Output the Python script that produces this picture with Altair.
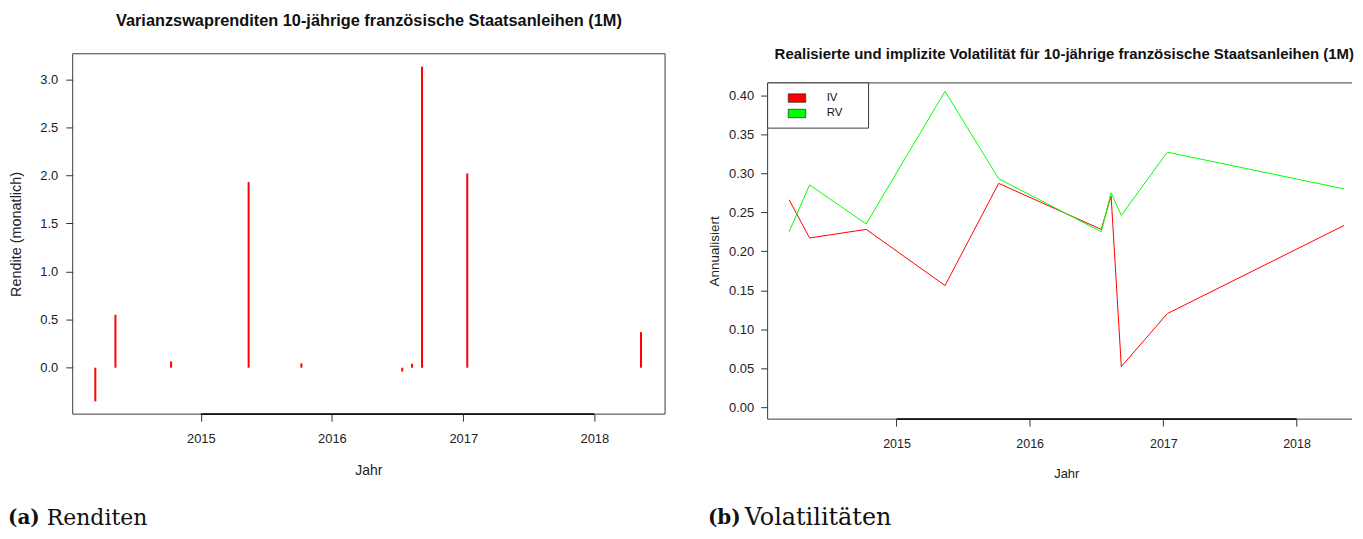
import altair as alt
import pandas as pd

# ---------------- data ----------------
dates = ["2014-03-13", "2014-05-08", "2014-10-10", "2015-05-14", "2015-10-08",
         "2016-07-15", "2016-08-11", "2016-09-08", "2017-01-12", "2018-05-11"]
returns = [-0.35, 0.55, 0.065, 1.93, 0.045, -0.04, 0.04, 3.13, 2.02, 0.37]
iv = [0.266, 0.217, 0.228, 0.156, 0.287, 0.228, 0.271, 0.052, 0.120, 0.233]
rv = [0.225, 0.285, 0.235, 0.405, 0.293, 0.225, 0.275, 0.246, 0.327, 0.280]
series_names = ["IV", "RV"]
series_colors = ["#ff0000", "#00ff00"]
year_ticks = [2015, 2016, 2017, 2018]
ret_ticks = [0.0, 0.5, 1.0, 1.5, 2.0, 2.5, 3.0]
vol_ticks = [0.0, 0.05, 0.10, 0.15, 0.20, 0.25, 0.30, 0.35, 0.40]

left_title = "Varianzswaprenditen 10-jährige französische Staatsanleihen (1M)"
right_title = "Realisierte und implizite Volatilität für 10-jährige französische Staatsanleihen (1M)"
cap_a = ["(a)", "Renditen"]
cap_b = ["(b)", "Volatilitäten"]

FONT = "Liberation Sans"
SERIF = "DejaVu Serif"

ret_df = pd.DataFrame({"Datum": dates, "Rendite": returns})
vol_df = pd.DataFrame({
    "Datum": dates * 2,
    "Wert": iv + rv,
    "Serie": [series_names[0]] * len(iv) + [series_names[1]] * len(rv),
})
legend_df = pd.DataFrame({"Serie": series_names})
seg_data = alt.Data(values=[{"Datum": f"{year_ticks[0]}-01-01", "Datum2": f"{year_ticks[-1]}-01-01"}])


def dt(y, m, d):
    return alt.DateTime(year=y, month=m, date=d, utc=True)


tick_vals = [dt(y, 1, 1) for y in year_ticks]
CAP_Y = 466.5

# ---------------- left panel ----------------
W1, H1 = 595, 362
x1_scale = alt.Scale(type="utc", domain=[dt(2014, 1, 9), dt(2018, 7, 17)])
x1_axis = alt.Axis(values=tick_vals, format="%Y", title="Jahr", domain=False, grid=False,
                   tickSize=7, tickColor="#333", labelPadding=11, labelFontSize=13,
                   labelFont=FONT, labelColor="#222", titleFont=FONT, titleFontSize=14,
                   titleFontWeight="normal", titleColor="#222", titleX=297, titleY=57,
                   titleBaseline="middle", titleAlign="center")
y1_scale = alt.Scale(domain=[-0.483, 3.264], nice=False, zero=False)
y1_axis = alt.Axis(values=ret_ticks, format=".1f", title="Rendite (monatlich)", domain=False,
                   grid=False, tickSize=7, tickColor="#333", labelPadding=8, labelFontSize=13,
                   labelFont=FONT, labelColor="#222", titleFont=FONT, titleFontSize=14.5,
                   titleFontWeight="normal", titleColor="#222", titleX=-56, titleY=H1 / 2,
                   titleAngle=270, titleBaseline="middle", titleAlign="center")
X1 = alt.X("Datum:T", scale=x1_scale, axis=x1_axis)

bars = alt.Chart(ret_df).mark_rule(color="#ff0000", strokeWidth=2).encode(
    x=X1,
    y=alt.Y("Rendite:Q", scale=y1_scale, axis=y1_axis),
    y2=alt.datum(0),
)

empty = alt.Data(values=[{}])
frame_col = "#3a3a3a"
f1 = [
    alt.Chart(empty).mark_rule(color=frame_col, strokeWidth=1).encode(x=alt.value(0), x2=alt.value(W1), y=alt.value(0)),
    alt.Chart(empty).mark_rule(color=frame_col, strokeWidth=1).encode(x=alt.value(0), x2=alt.value(W1), y=alt.value(H1)),
    alt.Chart(empty).mark_rule(color=frame_col, strokeWidth=1).encode(x=alt.value(0), y=alt.value(0), y2=alt.value(H1)),
    alt.Chart(empty).mark_rule(color=frame_col, strokeWidth=1).encode(x=alt.value(W1), y=alt.value(0), y2=alt.value(H1)),
]
seg1 = alt.Chart(seg_data).mark_rule(color="#111", strokeWidth=1.6).encode(
    x=X1, x2="Datum2:T", y=alt.value(H1))

t1 = alt.Chart(alt.Data(values=[{"t": left_title}])).mark_text(
    font=FONT, fontSize=16.4, fontWeight="bold", align="center", baseline="middle", color="#111"
).encode(x=alt.value(W1 / 2), y=alt.value(-33), text="t:N")

c1a = alt.Chart(alt.Data(values=[{"t": cap_a[0]}])).mark_text(
    font=SERIF, fontSize=20, fontWeight="bold", align="left", baseline="middle", color="#111"
).encode(x=alt.value(-65), y=alt.value(CAP_Y), text="t:N")
c1b = alt.Chart(alt.Data(values=[{"t": cap_a[1]}])).mark_text(
    font=SERIF, fontSize=22, align="left", baseline="middle", color="#111"
).encode(x=alt.value(-26), y=alt.value(CAP_Y), text="t:N")

left = alt.layer(bars, *f1, seg1, t1, c1a, c1b).properties(width=W1, height=H1)

# ---------------- right panel ----------------
W2, H2 = 587, 367
TOP2 = 29.3
x2_scale = alt.Scale(type="utc", domain=[dt(2014, 1, 13), dt(2018, 6, 2)])
x2_axis = alt.Axis(values=tick_vals, format="%Y", title="Jahr", domain=False, grid=False,
                   tickSize=7, tickColor="#333", labelPadding=11, labelFontSize=12.5,
                   labelFont=FONT, labelColor="#222", titleFont=FONT, titleFontSize=13,
                   titleFontWeight="normal", titleColor="#222", titleX=300, titleY=55,
                   titleBaseline="middle", titleAlign="center")
y2_scale = alt.Scale(domain=[-0.0153, 0.4532], nice=False, zero=False)
y2_axis = alt.Axis(values=vol_ticks, format=".2f", title="Annualisiert", domain=False,
                   grid=False, tickSize=7, tickColor="#333", labelPadding=7, labelFontSize=13,
                   labelFont=FONT, labelColor="#222", titleFont=FONT, titleFontSize=13.5,
                   titleFontWeight="normal", titleColor="#222", titleX=-53, titleY=198,
                   titleAngle=270, titleBaseline="middle", titleAlign="center")
X2 = alt.X("Datum:T", scale=x2_scale, axis=x2_axis)
Y2 = alt.Y("Wert:Q", scale=y2_scale, axis=y2_axis)
color_scale = alt.Scale(domain=series_names, range=series_colors)

lines = alt.Chart(vol_df).mark_line(strokeWidth=1).encode(
    x=X2, y=Y2,
    stroke=alt.Stroke("Serie:N", scale=color_scale, legend=None),
)

# legend (box, colour keys, labels) drawn from the series names and colour scale
leg_y = alt.Y("Serie:N", scale=alt.Scale(domain=series_names, range=[44.5, 60], padding=0), axis=None)
leg_box = alt.Chart(empty).mark_rect(fill="white", stroke=frame_col, strokeWidth=1).encode(
    x=alt.value(0), x2=alt.value(101.4), y=alt.value(TOP2), y2=alt.value(74.7))
leg_keys = alt.Chart(legend_df).mark_point(
    filled=True, shape="M-1,-0.48H1V0.48H-1Z", size=310, opacity=1, stroke="#222", strokeWidth=0.7
).encode(
    x=alt.value(29.5), y=leg_y,
    fill=alt.Fill("Serie:N", scale=color_scale, legend=None),
)
leg_text = alt.Chart(legend_df).mark_text(
    font=FONT, fontSize=11.5, align="left", baseline="middle", color="#111"
).encode(x=alt.value(59.3), y=leg_y, text="Serie:N")

f2 = [
    alt.Chart(empty).mark_rule(color=frame_col, strokeWidth=1).encode(x=alt.value(0), x2=alt.value(W2), y=alt.value(TOP2)),
    alt.Chart(empty).mark_rule(color=frame_col, strokeWidth=1).encode(x=alt.value(0), x2=alt.value(W2), y=alt.value(H2)),
    alt.Chart(empty).mark_rule(color=frame_col, strokeWidth=1).encode(x=alt.value(0), y=alt.value(TOP2), y2=alt.value(H2)),
]
seg2 = alt.Chart(seg_data).mark_rule(color="#111", strokeWidth=1.6).encode(
    x=X2, x2="Datum2:T", y=alt.value(H2))

t2 = alt.Chart(alt.Data(values=[{"t": right_title}])).mark_text(
    font=FONT, fontSize=15.0, fontWeight="bold", align="center", baseline="middle", color="#111"
).encode(x=alt.value(298), y=alt.value(0), text="t:N")

c2a = alt.Chart(alt.Data(values=[{"t": cap_b[0]}])).mark_text(
    font=SERIF, fontSize=20, fontWeight="bold", align="left", baseline="middle", color="#111"
).encode(x=alt.value(-60), y=alt.value(CAP_Y), text="t:N")
c2b = alt.Chart(alt.Data(values=[{"t": cap_b[1]}])).mark_text(
    font=SERIF, fontSize=24, align="left", baseline="middle", color="#111"
).encode(x=alt.value(-23), y=alt.value(CAP_Y), text="t:N")

right = alt.layer(
    lines, *f2, seg2, leg_box, leg_keys, leg_text, t2, c2a, c2b
).resolve_scale(y="independent").properties(width=W2, height=H2)

chart = alt.hconcat(left, right, spacing=42).properties(
    padding={"left": 0, "top": 3.8, "right": 0, "bottom": 0},
    background="white",
).configure_view(stroke=None)

chart.save("out.html", embed_options={"renderer": "svg", "actions": False})
